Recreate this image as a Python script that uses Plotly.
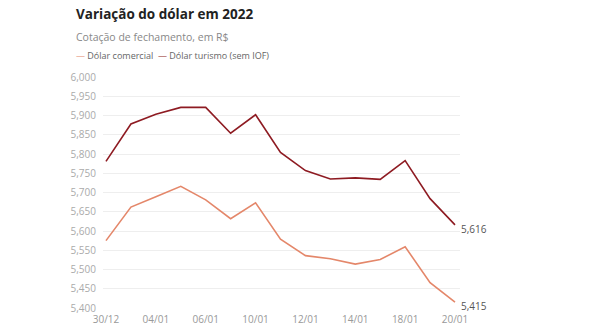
import plotly.graph_objects as go

# Business days between 30/12/2021 and 20/01/2022
dates = ["30/12", "03/01", "04/01", "05/01", "06/01", "07/01", "10/01", "11/01",
         "12/01", "13/01", "14/01", "17/01", "18/01", "19/01", "20/01"]
tick_labels = ["30/12", "04/01", "06/01", "10/01", "12/01", "14/01", "18/01", "20/01"]

comercial = [5.575, 5.662, 5.689, 5.716, 5.681, 5.632, 5.673, 5.579,
             5.536, 5.528, 5.514, 5.526, 5.559, 5.466, 5.415]
turismo = [5.781, 5.878, 5.903, 5.921, 5.921, 5.854, 5.902, 5.804,
           5.757, 5.735, 5.738, 5.734, 5.783, 5.684, 5.616]

COL_COM = "#e4876a"
COL_TUR = "#8e1b22"

x = list(range(len(dates)))
tickvals = [dates.index(t) for t in tick_labels]

fig = go.Figure()
fig.add_trace(go.Scatter(x=x, y=comercial, mode="lines", name="Dólar comercial",
                         line=dict(color=COL_COM, width=1.6)))
fig.add_trace(go.Scatter(x=x, y=turismo, mode="lines", name="Dólar turismo (sem IOF)",
                         line=dict(color=COL_TUR, width=1.6)))

# End-of-series value labels
for series in (turismo, comercial):
    fig.add_annotation(x=x[-1], y=series[-1], text=f"{series[-1]:.3f}".replace(".", ","),
                       showarrow=False, xanchor="left", yanchor="middle",
                       xshift=4, yshift=-4,
                       font=dict(family="Open Sans", size=10, color="#555"))

# Title, subtitle and legend as text blocks above the plot
fig.add_annotation(xref="paper", yref="paper", x=-0.082, y=1.0, yshift=63,
                   text="<b>Variação do dólar em 2022</b>", showarrow=False,
                   xanchor="left", yanchor="middle",
                   font=dict(family="Open Sans", size=13.5, color="#222"))
fig.add_annotation(xref="paper", yref="paper", x=-0.082, y=1.0, yshift=40,
                   text="Cotação de fechamento, em R$", showarrow=False,
                   xanchor="left", yanchor="middle",
                   font=dict(family="Open Sans", size=10.5, color="#888"))
fig.add_annotation(xref="paper", yref="paper", x=-0.082, y=1.0, yshift=22,
                   text=(f"<span style='color:{COL_COM}'>—</span> Dólar comercial  "
                         f"<span style='color:{COL_TUR}'>—</span> Dólar turismo (sem IOF)"),
                   showarrow=False, xanchor="left", yanchor="middle",
                   font=dict(family="Open Sans", size=9, color="#666"))

fig.update_layout(
    width=590, height=330,
    margin=dict(l=103, r=130, t=77, b=22),
    paper_bgcolor="white", plot_bgcolor="white",
    showlegend=False,
    separators=",.",
    font=dict(family="Open Sans", color="#aaa", size=10),
)
fig.update_xaxes(range=[-0.12, 14.2], tickvals=tickvals, ticktext=tick_labels,
                 showgrid=False, zeroline=False, showline=False, ticks="",
                 tickfont=dict(size=10, color="#999"), ticklabelstandoff=4,
                 automargin=False)
fig.update_yaxes(range=[5.4, 6.0], dtick=0.05, tick0=5.4, tickformat=".3f",
                 showgrid=True, gridcolor="#eeeeee", gridwidth=1, zeroline=False,
                 showline=False, ticks="", tickfont=dict(size=10, color="#aaa"),
                 ticklabelstandoff=6, automargin=False)

fig.write_html("out.html")
